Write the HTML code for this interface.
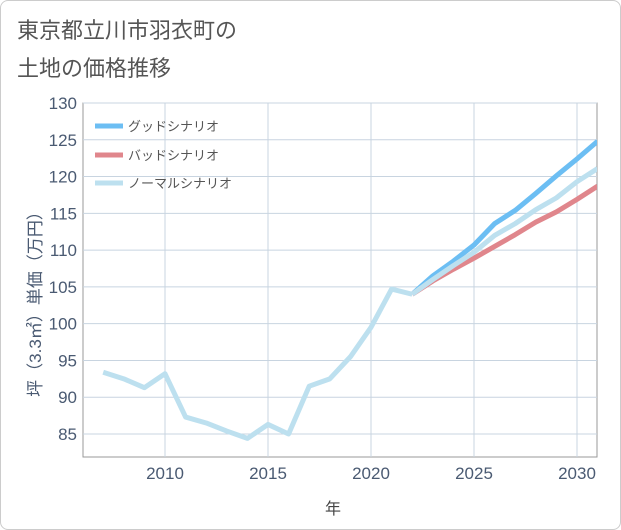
<!DOCTYPE html>
<html><head><meta charset="utf-8"><style>
body{margin:0;background:#fff;font-family:"Liberation Sans","Noto Sans CJK JP",sans-serif;}
#wrap{position:relative;width:619px;height:528px;border:1px solid #ccc;border-radius:8px;background:#fff;}
</style></head><body>
<div id="wrap">
<svg id="c" width="621" height="530" style="position:absolute;left:-1px;top:-1px">
<text x="17" y="38" font-size="22" fill="#555">東京都立川市羽衣町の</text>
<text x="17" y="76" font-size="22" fill="#555">土地の価格推移</text>
<g id="grid"></g><g id="lines"></g>
<text x="333" y="514" font-size="16" fill="#444" text-anchor="middle">年</text>
<text transform="translate(41,300) rotate(-90)" font-size="17" fill="#4a5a72" text-anchor="middle">坪（3.3㎡）単価（万円）</text>
<g>
<line x1="95" y1="126" x2="123" y2="126" stroke="#6cbef3" stroke-width="5"/><text x="128" y="131" font-size="13" fill="#555">グッドシナリオ</text>
<line x1="95" y1="155" x2="123" y2="155" stroke="#e0868c" stroke-width="5"/><text x="128" y="160" font-size="13" fill="#555">バッドシナリオ</text>
<line x1="95" y1="183" x2="123" y2="183" stroke="#bde0ef" stroke-width="5"/><text x="128" y="188" font-size="13" fill="#555">ノーマルシナリオ</text>
</g>
</svg></div>
<script>
const histYears=[2007,2008,2009,2010,2011,2012,2013,2014,2015,2016,2017,2018,2019,2020,2021,2022];
const histValues=[93.4,92.5,91.3,93.2,87.3,86.5,85.4,84.4,86.3,85.0,91.5,92.5,95.5,99.5,104.7,104.0];
const fcYears=[2022,2023,2024,2025,2026,2027,2028,2029,2030,2031];
const goodValues=[104,106.5,108.5,110.7,113.6,115.4,117.7,120.1,122.4,124.8];
const badValues=[104,105.8,107.4,108.9,110.5,112.1,113.8,115.2,116.9,118.7];
const normalValues=[104,106,107.9,109.7,112,113.6,115.5,117.1,119.3,121.1];
const yTicks=[85,90,95,100,105,110,115,120,125,130];
const xTicks=[2010,2015,2020,2025,2030];
const L=83,R=597,T=103,B=457;
const xs=y=>165+(y-2010)*20.6;
const ys=v=>T+(130-v)*(434-T)/45;
const NS="http://www.w3.org/2000/svg";
const g=document.getElementById('grid'),lg=document.getElementById('lines');
function mk(p,tag,a){const e=document.createElementNS(NS,tag);for(const k in a)e.setAttribute(k,a[k]);p.appendChild(e);return e;}
const bg=mk(g,'rect',{x:L,y:T,width:R-L,height:B-T,fill:'#fff',stroke:'#999'});


yTicks.forEach(v=>{const l=mk(g,'line',{x1:L,x2:R,y1:ys(v),y2:ys(v),stroke:'#c8d4e0'});


const t=mk(g,'text',{x:L-6,y:ys(v)+6,'font-size':17,fill:'#4a5a72','text-anchor':'end'});t.textContent=v;

});
xTicks.forEach(v=>{const l=mk(g,'line',{x1:xs(v),x2:xs(v),y1:T,y2:B,stroke:'#c8d4e0'});


const t=mk(g,'text',{x:xs(v),y:B+22,'font-size':17,fill:'#4a5a72','text-anchor':'middle'});t.textContent=v;

});
function line(yrs,vals,col,name){const p=mk(lg,'polyline',{points:yrs.map((y,i)=>xs(y)+','+ys(vals[i])).join(' '),fill:'none',stroke:col,'stroke-width':5,'stroke-linejoin':'round'});

}
const cp=mk(lg,'clipPath',{id:'cl'});mk(cp,'rect',{x:L,y:T,width:R-L,height:B-T});lg.setAttribute('clip-path','url(#cl)');
line(fcYears,goodValues,'#6cbef3','good-scenario-line');
line(fcYears,badValues,'#e0868c','bad-scenario-line');
line(fcYears,normalValues,'#bde0ef','normal-scenario-line');
line(histYears,histValues,'#bde0ef','historical-price-line');
</script>
</body></html>
